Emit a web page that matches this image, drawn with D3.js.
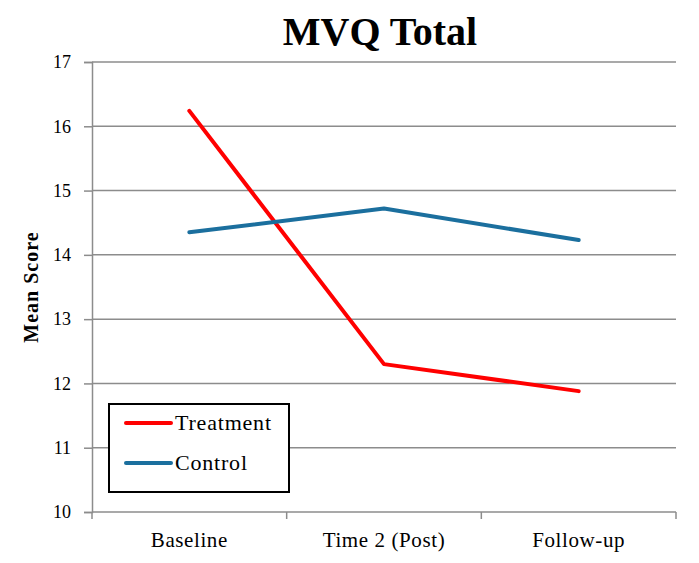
<!DOCTYPE html>
<html><head><meta charset="utf-8">
<script src="https://cdn.jsdelivr.net/npm/d3@7"></script>
<style>
body{margin:0;background:#fff;}
text{font-family:"Liberation Serif","DejaVu Serif",serif;fill:#000;}
</style></head>
<body><svg id="c" width="699" height="563"></svg>
<script>
const categories = ["Baseline","Time 2 (Post)","Follow-up"];
const treatment = [16.24, 12.30, 11.88];
const control = [14.35, 14.72, 14.23];
const yTicks = [10,11,12,13,14,15,16,17];
const seriesNames = ["Treatment","Control"];
const seriesColors = ["#ff0000","#1b6f9e"];

const svg = d3.select("#c");
const L=92, R=676, T=62, B=512;
const x = d3.scaleBand().domain(categories).range([L,R]);
const y = d3.scaleLinear().domain([10,17]).range([B,T]);

// gridlines
svg.append("g").selectAll("line").data(yTicks.filter(d=>d>10)).join("line")
  .attr("x1",L).attr("x2",R).attr("y1",d=>y(d)).attr("y2",d=>y(d))
  .attr("stroke","#8c8c8c").attr("stroke-width",1.5);

// y axis
const ya = svg.append("g").attr("transform",`translate(${L},0)`)
  .call(d3.axisLeft(y).tickValues(yTicks).tickSize(8).tickPadding(13).tickFormat(d3.format("d")));
ya.select(".domain").attr("stroke","#8c8c8c").attr("stroke-width",1.5);
ya.selectAll(".tick line").attr("stroke","#8c8c8c").attr("stroke-width",1.5);
ya.selectAll("text").style("font-size","18px").style("font-family","'Liberation Serif',serif");

// x axis
const xa = svg.append("g").attr("transform",`translate(0,${B})`)
  .call(d3.axisBottom(x).tickSize(0).tickPadding(20));
xa.select(".domain").attr("stroke","#8c8c8c").attr("stroke-width",1.5).attr("d",`M${L},0H${R}`);
xa.selectAll("text").style("font-size","21px").style("letter-spacing","0.6px").style("font-family","'Liberation Serif',serif");
// boundary ticks
const bounds = categories.map(c=>x(c)).concat([R]);
svg.append("g").selectAll("line").data(bounds).join("line")
  .attr("x1",d=>d).attr("x2",d=>d).attr("y1",B).attr("y2",B+7)
  .attr("stroke","#8c8c8c").attr("stroke-width",1.5);

// lines
const line = d3.line().x((d,i)=>x(categories[i])+x.bandwidth()/2).y(d=>y(d));
[treatment, control].forEach((s,k)=>{
  svg.append("path").datum(s).attr("d",line).attr("fill","none")
    .attr("stroke",seriesColors[k]).attr("stroke-width",4).attr("stroke-linecap","round").attr("stroke-linejoin","round");
});

// title
svg.append("text").attr("x",380).attr("y",45).attr("text-anchor","middle")
  .style("font-size","40px").style("font-weight","bold").text("MVQ Total");

// y label
svg.append("text").attr("transform","translate(38,287) rotate(-90)").attr("text-anchor","middle")
  .style("font-size","20px").style("font-weight","bold").style("letter-spacing","1px").text("Mean Score");

// legend
const lg = svg.append("g");
lg.append("rect").attr("x",109).attr("y",404).attr("width",180).attr("height",88)
  .attr("fill","#fff").attr("stroke","#000").attr("stroke-width",2);
seriesNames.forEach((n,i)=>{
  const yy = 423 + i*40;
  lg.append("line").attr("x1",126).attr("x2",171).attr("y1",yy).attr("y2",yy)
    .attr("stroke",seriesColors[i]).attr("stroke-width",4).attr("stroke-linecap","round");
  lg.append("text").attr("x",175).attr("y",yy+7).style("font-size","22px").style("letter-spacing","0.8px").text(n);
});
</script></body></html>
